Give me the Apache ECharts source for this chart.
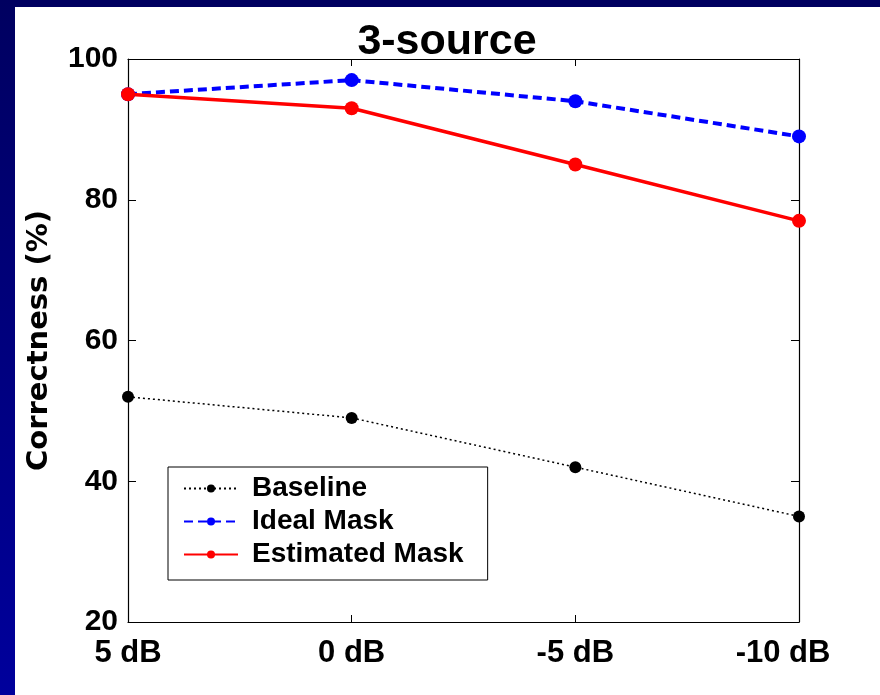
<!DOCTYPE html>
<html>
<head>
<meta charset="utf-8">
<script src="https://cdn.jsdelivr.net/npm/echarts@6/dist/echarts.min.js"></script>
<style>
html,body{margin:0;padding:0;background:#fff;}
#chart{width:880px;height:695px;}
</style>
</head>
<body>
<div id="chart"></div>
<script>
var categories = ['5 dB', '0 dB', '-5 dB', '-10 dB'];
var baseline = [52, 49, 42, 35];
var idealMask = [95, 97, 94, 89];
var estimatedMask = [95, 93, 85, 77];
var yTicks = [20, 40, 60, 80, 100];

var FONT = "'Liberation Sans', Arial, Helvetica, sans-serif";
var chart = echarts.init(document.getElementById('chart'));
chart.setOption({
  backgroundColor: '#ffffff',
  animation: false,
  graphic: [
    {type: 'rect', left: 0, top: 0, shape: {width: 880, height: 7}, style: {fill: '#000060'}, z: 100},
    {type: 'rect', left: 0, top: 0, shape: {width: 15, height: 695},
      style: {fill: new echarts.graphic.LinearGradient(0, 0, 0, 1, [
        {offset: 0, color: '#000060'}, {offset: 1, color: '#00009c'}])}, z: 100}
  ],
  title: {
    text: '3-source',
    left: 442, top: 16, textAlign: 'center',
    textStyle: {fontFamily: FONT, fontWeight: 'bold', fontSize: 43, color: '#000'}
  },
  legend: {
    orient: 'vertical',
    left: 168, top: 467,
    backgroundColor: '#fff',
    borderColor: '#000', borderWidth: 1,
    padding: [6, 24, 10, 15],
    itemWidth: 54, itemHeight: 10, itemGap: 2,
    textStyle: {fontFamily: FONT, fontWeight: 'bold', fontSize: 28, color: '#000', lineHeight: 31, padding: [0, 0, 0, 9]},
    data: ['Baseline', 'Ideal Mask', 'Estimated Mask']
  },
  grid: {left: 128, right: 81, top: 59, bottom: 73, containLabel: false},
  xAxis: [{
    type: 'category', data: categories, boundaryGap: false, position: 'bottom',
    axisLine: {lineStyle: {color: '#000', width: 1.2}},
    axisTick: {inside: true, length: 7, lineStyle: {color: '#000'}},
    axisLabel: {
      interval: 0, hideOverlap: false,
      margin: 16, color: '#000', fontFamily: FONT, fontWeight: 'bold', fontSize: 31,
      formatter: function (v, i) { return i === categories.length - 1 ? '{last|' + v + '}' : v; },
      rich: {last: {fontFamily: FONT, fontWeight: 'bold', fontSize: 31, color: '#000', padding: [0, 32, 0, 0]}}
    },
    splitLine: {show: false}
  }, {
    type: 'category', data: categories, boundaryGap: false, position: 'top',
    axisLine: {lineStyle: {color: '#000', width: 1.2}},
    axisTick: {inside: true, length: 7, interval: 0, lineStyle: {color: '#000'}},
    axisLabel: {show: false}
  }],
  yAxis: [{
    type: 'value', min: 20, max: 100, interval: 20, position: 'left',
    name: 'Correctness (%)', nameLocation: 'middle', nameGap: 74,
    nameTextStyle: {fontFamily: "'DejaVu Sans', sans-serif", fontWeight: 'bold', fontSize: 29, color: '#000'},
    axisLine: {show: true, lineStyle: {color: '#000', width: 1.2}},
    axisTick: {show: true, inside: true, length: 8, lineStyle: {color: '#000'}},
    axisLabel: {margin: 10, color: '#000', fontFamily: FONT, fontWeight: 'bold', fontSize: 30,
      formatter: function (v) { return yTicks.indexOf(v) >= 0 ? String(v) : ''; }},
    splitLine: {show: false}
  }, {
    type: 'value', min: 20, max: 100, interval: 20, position: 'right',
    axisLine: {show: true, lineStyle: {color: '#000', width: 1.2}},
    axisTick: {show: true, inside: true, length: 8, lineStyle: {color: '#000'}},
    axisLabel: {show: false},
    splitLine: {show: false}
  }],
  series: [{
    name: 'Baseline', type: 'line', data: baseline,
    symbol: 'circle', symbolSize: 12,
    itemStyle: {color: '#000'},
    lineStyle: {color: '#000', width: 1.5, type: [2, 3]}
  }, {
    name: 'Ideal Mask', type: 'line', data: idealMask,
    symbol: 'circle', symbolSize: 14,
    itemStyle: {color: '#0000ff'},
    lineStyle: {color: '#0000ff', width: 4, type: [9, 5]}
  }, {
    name: 'Estimated Mask', type: 'line', data: estimatedMask,
    symbol: 'circle', symbolSize: 14,
    itemStyle: {color: '#ff0000'},
    lineStyle: {color: '#ff0000', width: 3.5}
  }]
});
</script>
</body>
</html>
